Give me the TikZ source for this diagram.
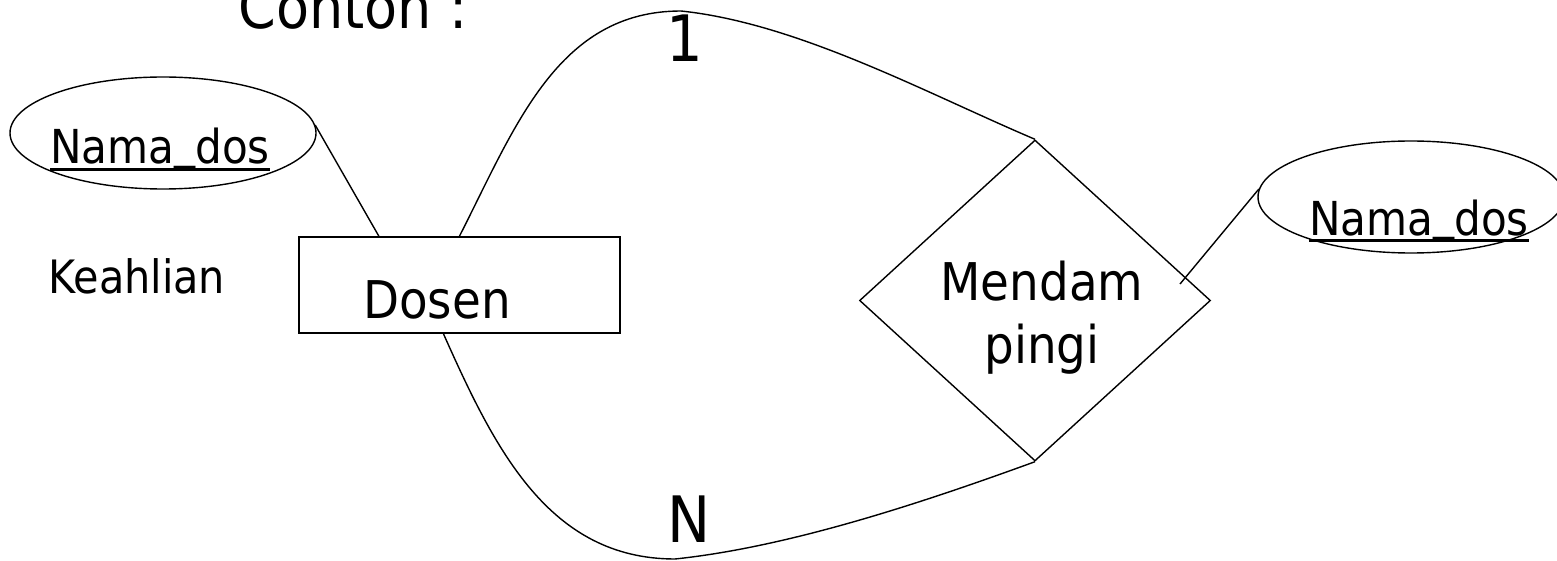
\documentclass[tikz,border=0pt]{standalone}
\usepackage{fontspec}
\setmainfont{DejaVu Sans Condensed}
\usepackage{tikz}
\usetikzlibrary{shapes, positioning, calc}

\newsavebox{\kotakteks}
\newcommand{\garis}[1]{\sbox{\kotakteks}{#1}\rlap{\rule[-3.3pt]{\wd\kotakteks}{1.4pt}}\usebox{\kotakteks}}
\newcommand{\namados}{Nama\raisebox{2.6pt}{\_}dos}

\begin{document}
\begin{tikzpicture}[x=0.5pt,y=-0.5pt,line width=0.7pt,
    every node/.style={font=\fontsize{23pt}{28pt}\selectfont},
    attrib/.style={draw,ellipse,minimum width=153pt,minimum height=56pt,inner sep=0pt},
    entitas/.style={draw,rectangle,minimum width=160.5pt,minimum height=48pt,inner sep=0pt,line width=0.9pt},
    relasi/.style={draw,diamond,minimum width=175.5pt,minimum height=160.5pt,inner sep=0pt},
    teks/.style={anchor=base,inner sep=0pt},
    besar/.style={font=\fontsize{26pt}{31.5pt}\selectfont},
    kardinal/.style={teks,font=\fontsize{32pt}{38pt}\selectfont}]
  \useasboundingbox (0,0) rectangle (1557,561);
  \clip (0,0) rectangle (1557,561);

  \node[teks,anchor=base west,font=\fontsize{30pt}{36pt}\selectfont] (contoh) at (238,29) {Contoh :};

  % atribut kiri
  \node[attrib] (nama1) at (163,133) {};
  \node[teks,font=\fontsize{23.4pt}{28pt}\selectfont] (nama1txt) at (160,164) {\garis{\namados}};
  \node[teks,anchor=base west] (keahlian) at (48,293) {Keahlian};

  % entitas
  \node[entitas] (dosen) at (459.5,285) {};
  \node[teks,besar] (dosentxt) at (437,318) {Dosen};

  % relasi
  \node[relasi] (rel) at (1035,300.5) {};
  \node[besar,align=center,inner sep=0pt] (reltxt) at (1042,318) {Mendam\\pingi};

  % atribut kanan
  \node[attrib] (nama2) at (1411,197) {};
  \node[teks,font=\fontsize{23.4pt}{28pt}\selectfont] (nama2txt) at (1419,235) {\garis{\namados}};

  \coordinate (puncak1) at (681,11);
  \coordinate (puncak2) at (675,559);
  \coordinate (ujung) at (1180,284);

  \draw (nama1.3) -- ($(dosen.north west)!0.25!(dosen.north east)$);
  \draw (nama2.177) -- (ujung);
  \draw (dosen.north) to[out=63,in=180] (puncak1) to[out=-6,in=157,looseness=0.8] (rel.north);
  \draw ($(dosen.south)+(-16,0)$) to[out=-66,in=180] (puncak2) to[out=6,in=-160,looseness=0.8] (rel.south);

  \node[kardinal] (satu) at (685,62) {1};
  \node[kardinal] (banyak) at (689,542) {N};
\end{tikzpicture}
\end{document}
